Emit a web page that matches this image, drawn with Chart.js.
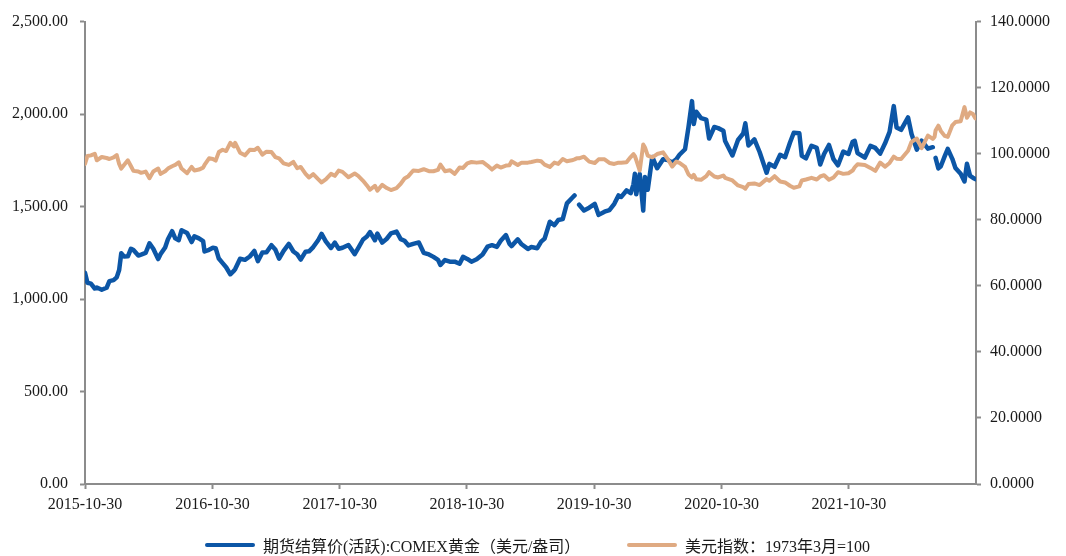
<!DOCTYPE html>
<html>
<head>
<meta charset="utf-8">
<title>COMEX黄金与美元指数</title>
<script src="https://cdn.jsdelivr.net/npm/chart.js@4.4.0/dist/chart.umd.min.js"></script>
<style>
  html, body { margin: 0; padding: 0; background: #fff; }
  .wrap { position: relative; width: 1066px; height: 556px; }
  .lg-item {
    position: absolute; top: 535px; height: 20px;
    display: flex; align-items: center; white-space: nowrap;
    font: 16px "Liberation Serif", "Noto Sans CJK SC", serif; color: #1a1a1a;
  }
  .lg-line { width: 50px; height: 4px; border-radius: 2px; margin-right: 8px; }
</style>
</head>
<body>
<div class="wrap">
  <canvas id="chart"></canvas>
  <div class="lg-item" style="left:205px"><span class="lg-line" style="background:#0c56a6"></span>期货结算价(活跃):COMEX黄金（美元/盎司）</div>
  <div class="lg-item" style="left:627px"><span class="lg-line" style="background:#dfaa82"></span>美元指数：1973年3月=100</div>
</div>
<script>
/* ── Data ──────────────────────────────────── */
const dates = [
  '2015-10-30','2015-11-06','2015-11-16','2015-11-27','2015-12-03','2015-12-17','2015-12-31',
  '2016-01-08','2016-01-20','2016-01-29','2016-02-05','2016-02-11','2016-02-19','2016-03-01','2016-03-10','2016-03-17','2016-03-31',
  '2016-04-08','2016-04-21','2016-05-02','2016-05-13','2016-05-27','2016-06-03','2016-06-16','2016-06-24',
  '2016-07-06','2016-07-15','2016-07-25','2016-08-02','2016-08-18','2016-08-31','2016-09-08','2016-09-21',
  '2016-10-03','2016-10-07','2016-10-20','2016-10-31','2016-11-08','2016-11-17','2016-11-28','2016-12-08','2016-12-20','2016-12-30',
  '2017-01-03','2017-01-17','2017-01-31','2017-02-14','2017-02-27','2017-03-09','2017-03-22',
  '2017-04-03','2017-04-17','2017-04-28','2017-05-09','2017-05-22','2017-06-06','2017-06-19','2017-06-30',
  '2017-07-10','2017-07-24','2017-08-03','2017-08-15','2017-08-29','2017-09-08','2017-09-20',
  '2017-10-05','2017-10-16','2017-10-27','2017-11-07','2017-11-24','2017-12-12','2017-12-22',
  '2018-01-05','2018-01-16','2018-01-25','2018-02-08','2018-02-15','2018-03-01','2018-03-14','2018-03-26',
  '2018-04-11','2018-04-23','2018-05-04','2018-05-15','2018-05-29','2018-06-14','2018-06-28',
  '2018-07-13','2018-07-26','2018-08-08','2018-08-15','2018-08-28','2018-09-11','2018-09-25',
  '2018-10-09','2018-10-19','2018-10-31','2018-11-12','2018-11-27','2018-12-14','2018-12-28',
  '2019-01-10','2019-01-24','2019-02-04','2019-02-19','2019-03-01','2019-03-07','2019-03-25',
  '2019-04-05','2019-04-23','2019-05-03','2019-05-20','2019-05-31','2019-06-10','2019-06-25',
  '2019-07-08','2019-07-19','2019-08-01','2019-08-13','2019-08-27','2019-09-04','2019-09-10','2019-09-17',
  '2019-10-01','2019-10-16','2019-11-01','2019-11-12','2019-11-29','2019-12-13','2019-12-27',
  '2020-01-08','2020-01-16','2020-01-31','2020-02-12','2020-02-20','2020-02-24','2020-02-28','2020-03-09','2020-03-19','2020-03-24',
  '2020-04-01','2020-04-14','2020-04-28','2020-05-15','2020-05-29','2020-06-10','2020-06-22',
  '2020-07-01','2020-07-17','2020-07-27','2020-08-06','2020-08-11','2020-08-18','2020-09-01','2020-09-16','2020-09-24',
  '2020-10-09','2020-10-20','2020-11-04','2020-11-09','2020-11-30','2020-12-16','2020-12-31',
  '2021-01-06','2021-01-15','2021-02-01','2021-02-16','2021-03-08','2021-03-16','2021-03-31',
  '2021-04-16','2021-04-30','2021-05-14','2021-05-25','2021-06-10','2021-06-17','2021-06-29',
  '2021-07-15','2021-07-30','2021-08-09','2021-08-20','2021-09-03','2021-09-16','2021-09-29',
  '2021-10-14','2021-10-29','2021-11-10','2021-11-16','2021-11-24','2021-12-15','2021-12-31',
  '2022-01-14','2022-01-28','2022-02-11','2022-02-24','2022-03-08','2022-03-16','2022-03-29',
  '2022-04-18','2022-04-28','2022-05-13','2022-05-27','2022-06-14','2022-06-28','2022-07-03','2022-07-06','2022-07-14','2022-07-21',
  '2022-08-01','2022-08-10','2022-08-23','2022-09-01','2022-09-16','2022-09-27','2022-10-04','2022-10-13','2022-10-21','2022-10-28'
];

// COMEX gold, active contract settlement (USD/oz); null = no quote
const gold = [
  1142,1088,1083,1057,1062,1050,1061,
  1097,1102,1117,1157,1247,1230,1231,1272,1265,1235,
  1240,1249,1301,1272,1216,1243,1279,1323,
  1367,1328,1318,1372,1357,1308,1339,1328,
  1313,1257,1266,1277,1275,1219,1194,1172,1134,1152,
  1162,1218,1212,1230,1260,1205,1252,
  1253,1291,1268,1218,1261,1298,1257,1242,
  1213,1256,1258,1281,1318,1352,1312,
  1276,1305,1272,1277,1292,1243,1275,
  1322,1338,1362,1318,1354,1305,1326,1355,
  1365,1324,1315,1290,1298,1306,1250,
  1241,1228,1212,1184,1211,1202,1202,
  1191,1228,1217,1202,1215,1241,1283,
  1291,1282,1315,1346,1299,1286,1323,
  1296,1271,1281,1275,1310,1327,1418,
  1399,1427,1432,1517,1545,1560,null,1510,
  1479,1494,1514,1455,1472,1481,1515,
  1560,1552,1587,1572,1620,1677,1566,1676,1478,1660,
  1591,1768,1707,1756,1751,1738,1756,
  1780,1810,1931,2070,1946,2013,1978,1970,1868,
  1930,1924,1910,1854,1776,1860,1895,
  1950,1830,1863,1795,1683,1731,1715,
  1780,1767,1845,1899,1896,1774,1761,
  1829,1817,1727,1784,1833,1756,1723,
  1797,1784,1850,1855,1789,1765,1828,
  1817,1786,1842,1904,2043,1928,1915,
  1982,1892,1808,1856,1813,1821,null,1763,1706,1718,
  1771,1812,1758,1709,1677,1636,1731,1666,1656,1648
];

// US dollar index (March 1973 = 100)
const usdx = [
  96.9,99.3,99.5,100.0,98.0,99.0,98.7,
  98.4,98.9,99.6,96.9,95.5,96.6,98.0,96.2,94.8,94.6,
  94.2,94.6,92.6,94.6,95.5,93.9,94.7,95.5,
  96.2,96.6,97.4,95.5,94.1,96.0,94.9,95.2,
  95.8,96.6,98.6,98.4,97.9,100.5,101.2,100.8,103.3,102.2,
  103.3,100.3,99.5,101.2,101.1,101.8,99.7,
  100.6,100.5,99.0,98.6,97.1,96.6,97.5,95.6,
  96.0,93.9,92.8,93.8,92.3,91.3,92.2,
  93.9,93.3,94.9,94.5,92.9,94.0,93.3,
  91.8,90.4,89.1,90.3,88.8,90.6,89.6,89.0,
  89.6,90.9,92.5,93.2,94.9,94.8,95.3,
  94.7,94.7,95.1,96.7,94.7,95.0,93.9,
  95.8,95.7,97.1,97.5,97.3,97.5,96.4,
  95.2,96.4,95.8,96.4,96.5,97.7,96.6,
  97.3,97.3,97.5,97.9,97.7,96.7,96.0,
  97.3,96.9,98.4,97.7,98.0,98.3,98.6,98.6,
  99.1,97.6,97.2,98.3,98.3,97.2,96.9,
  97.3,97.3,97.4,99.0,99.9,99.3,98.1,94.9,102.8,101.9,
  99.4,98.9,99.9,100.4,98.3,96.1,97.6,
  97.2,96.0,93.7,92.8,93.6,92.3,92.1,93.2,94.4,
  93.1,92.8,93.4,92.7,91.9,90.4,89.9,
  89.4,90.8,91.0,90.5,92.3,91.8,93.2,
  91.6,91.3,90.3,89.7,90.1,91.9,92.2,
  92.7,92.2,93.1,93.5,92.1,92.8,94.4,
  93.9,94.1,94.9,95.9,96.8,96.6,95.7,
  94.8,97.3,96.1,97.2,99.1,98.5,98.4,
  100.9,103.6,104.6,101.7,105.5,104.5,105.1,107.0,108.5,106.9,
  105.4,105.1,108.6,109.6,109.8,114.1,110.9,112.5,112.0,110.7
];

const xTickLabels = ['2015-10-30','2016-10-30','2017-10-30','2018-10-30','2019-10-30','2020-10-30','2021-10-30'];
const xRange      = ['2015-10-30','2022-10-30'];
const goldTicks   = [0, 500, 1000, 1500, 2000, 2500];
const usdxTicks   = [0, 20, 40, 60, 80, 100, 120, 140];

/* ── Helpers ───────────────────────────────── */
const DAY = 86400000;
const t0 = Date.parse(xRange[0] + 'T00:00:00Z');
const dayOf = s => Math.round((Date.parse(s + 'T00:00:00Z') - t0) / DAY);

const AXIS = '#8c8c8c';
const TXT  = '#1a1a1a';
const FONT = { family: '"Liberation Serif", "Times New Roman", serif', size: 16 };

const xTicks = xTickLabels.map(dayOf);

/* ── Chart ─────────────────────────────────── */
const canvas = document.getElementById('chart');
canvas.width = 1066; canvas.height = 556;

new Chart(canvas, {
  type: 'line',
  data: {
    datasets: [
      {
        label: '期货结算价(活跃):COMEX黄金（美元/盎司）',
        data: dates.map((d, i) => ({ x: dayOf(d), y: gold[i] })),
        yAxisID: 'yGold',
        borderColor: '#0c56a6', borderWidth: 4.5,
        pointRadius: 0, tension: 0, spanGaps: false,
        borderJoinStyle: 'round', borderCapStyle: 'round',
        order: 1
      },
      {
        label: '美元指数：1973年3月=100',
        data: dates.map((d, i) => ({ x: dayOf(d), y: usdx[i] })),
        yAxisID: 'yUsd',
        borderColor: '#dfaa82', borderWidth: 4,
        pointRadius: 0, tension: 0,
        borderJoinStyle: 'round', borderCapStyle: 'round',
        order: 0
      }
    ]
  },
  options: {
    responsive: false,
    animation: false,
    layout: { padding: { top: 19, left: 0, right: 0, bottom: 0 } },
    plugins: { legend: { display: false }, tooltip: { enabled: false } },
    scales: {
      x: {
        type: 'linear',
        min: dayOf(xRange[0]), max: dayOf(xRange[1]),
        afterBuildTicks: s => { s.ticks = xTicks.map(v => ({ value: v })); },
        afterFit: s => { s.height = 72; },
        grid: { drawOnChartArea: false, drawTicks: true, tickLength: 5, tickColor: AXIS, tickWidth: 2 },
        border: { display: true, color: AXIS, width: 2 },
        ticks: {
          autoSkip: false, maxRotation: 0, padding: 6, color: TXT, font: FONT,
          callback: v => xTickLabels[xTicks.indexOf(v)] || ''
        }
      },
      yGold: {
        position: 'left',
        min: goldTicks[0], max: goldTicks[goldTicks.length - 1],
        afterFit: s => { s.width = 85; },
        grid: { drawOnChartArea: false, drawTicks: true, tickLength: 5, tickColor: AXIS, tickWidth: 2 },
        border: { display: true, color: AXIS, width: 2 },
        ticks: {
          stepSize: goldTicks[1] - goldTicks[0], padding: 12, color: TXT, font: FONT,
          callback: v => v.toLocaleString('en-US', { minimumFractionDigits: 2, maximumFractionDigits: 2 })
        }
      },
      yUsd: {
        position: 'right',
        min: usdxTicks[0], max: usdxTicks[usdxTicks.length - 1],
        afterFit: s => { s.width = 90; },
        grid: { drawOnChartArea: false, drawTicks: true, tickLength: 5, tickColor: AXIS, tickWidth: 2 },
        border: { display: true, color: AXIS, width: 2 },
        ticks: {
          stepSize: usdxTicks[1] - usdxTicks[0], padding: 9, color: TXT, font: FONT,
          callback: v => v.toFixed(4)
        }
      }
    }
  }
});
</script>
</body>
</html>
